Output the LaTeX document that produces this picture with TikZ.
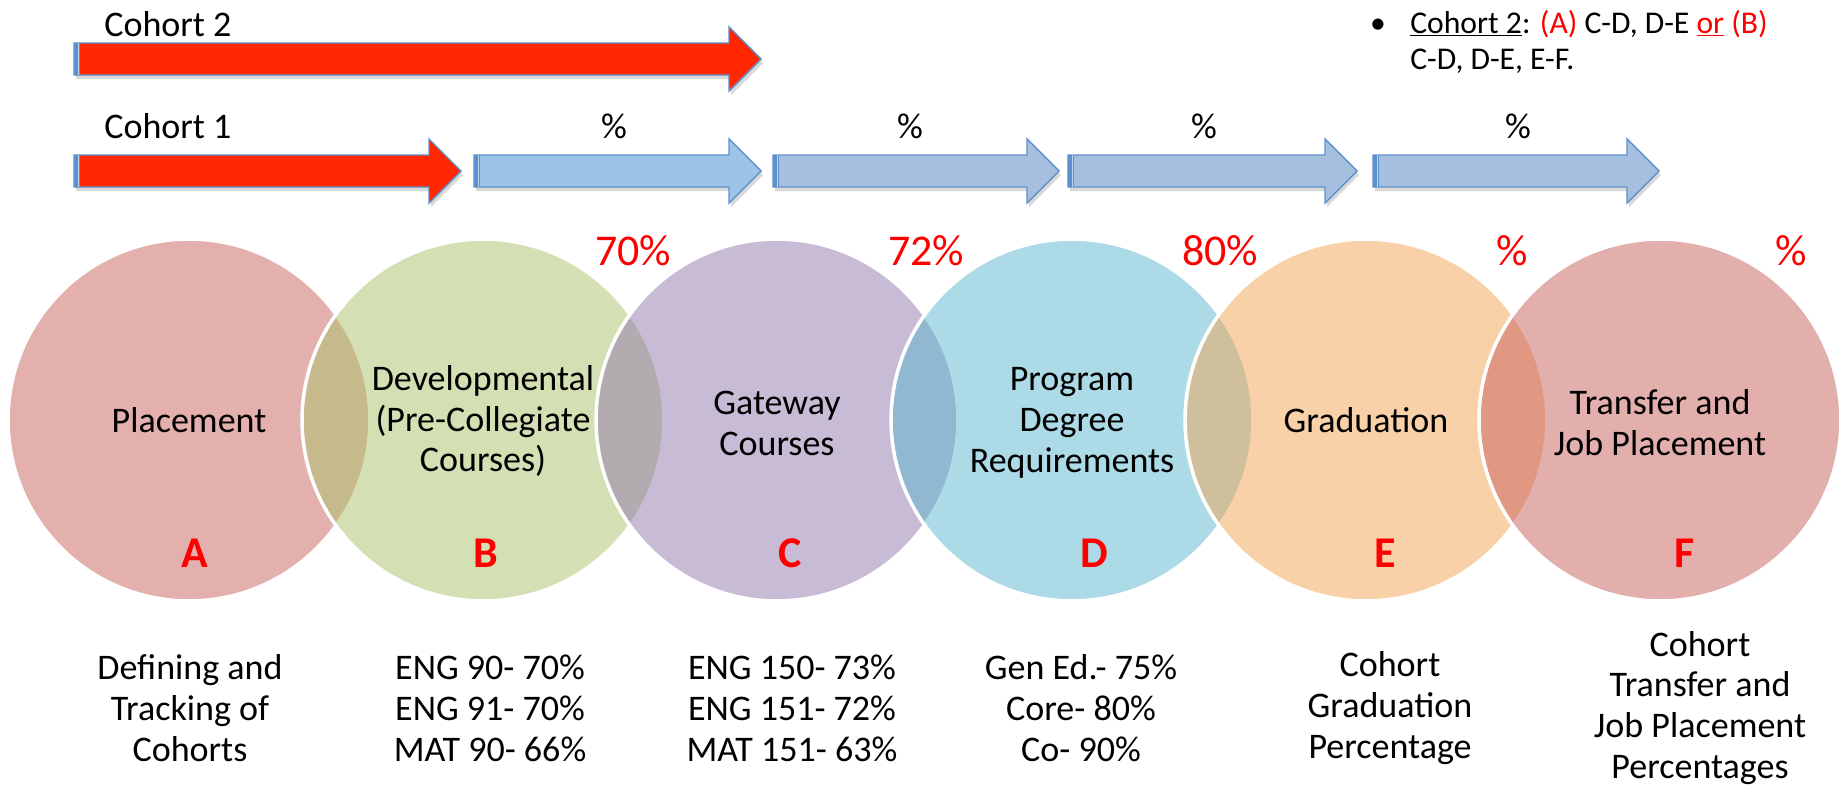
\documentclass[tikz,border=0pt]{standalone}
\usepackage{fontspec}
\setmainfont{Carlito}

\definecolor{arrowred}{RGB}{255,38,0}
\definecolor{arrowline}{RGB}{94,144,205}
\definecolor{arrowblue}{RGB}{157,195,230}
\definecolor{arrowgrey}{RGB}{167,191,222}
\definecolor{stageA}{RGB}{201,99,93}
\definecolor{stageB}{RGB}{171,195,107}
\definecolor{stageC}{RGB}{145,121,173}
\definecolor{stageD}{RGB}{91,183,207}
\definecolor{stageE}{RGB}{245,165,83}
\definecolor{stageF}{RGB}{201,97,93}
\definecolor{pctred}{RGB}{255,0,0}

\tikzset{
  stage/.style={circle, draw=white, line width=2pt, fill opacity=.5,
    minimum size=7.24cm, inner sep=0pt},
  txt/.style={font=\fontsize{20.5}{23.3}\selectfont, align=center, inner sep=0pt},
  letter/.style={font=\bfseries\fontsize{25}{30}\selectfont, text=pctred, inner sep=0pt},
  pct/.style={font=\fontsize{25}{30}\selectfont, text=pctred, inner sep=0pt},
  cohortnote/.style={font=\fontsize{18}{21}\selectfont, align=left, inner sep=0pt}
}

\newcommand{\arrowpath}[3]{(#1,#3-16) -- (#2-32,#3-16) -- (#2-32,#3-32) -- (#2,#3)
  -- (#2-32,#3+32) -- (#2-32,#3+16) -- (#1,#3+16) -- cycle}
\newcommand{\stagearrow}[4]{%
  \fill[black, opacity=.15, shift={(2,4)}] \arrowpath{#1}{#2}{#3};
  \draw[arrowline, line width=.8pt, fill=#4] \arrowpath{#1}{#2}{#3};
  \fill[arrowline] (#1,#3-16) rectangle (#1+6,#3+16);
  \draw[white!60!arrowline, line width=.4pt] (#1+4,#3-16) -- (#1+4,#3+16);
}

\begin{document}
\begin{tikzpicture}[x=0.02cm, y=-0.02cm]
  \fill[white] (0,0) rectangle (1845,798);
  \useasboundingbox (0,0) rectangle (1845,798);

  % cohort arrows
  \node[txt, anchor=west] (cohorttwo) at (104,24) {Cohort 2};
  \node[txt, anchor=west] (cohortone) at (104,126) {Cohort 1};
  \stagearrow{74}{761}{59}{arrowred}
  \stagearrow{74}{461}{171}{arrowred}
  \stagearrow{474}{761}{171}{arrowblue}
  \foreach \xa/\xb in {773/1059, 1068/1357, 1373/1659}
  {
    \stagearrow{\xa}{\xb}{171}{arrowgrey}
  }
  \foreach \x/\nm in {614/one, 910/two, 1204/three, 1518/four}
    \node[txt] (rate\nm) at (\x,126) {\%};

  % note on cohort 2
  \node[cohortnote] (dot) at (1378,26) {\textbullet};
  \node[cohortnote, anchor=west] (note) at (1410,42)
    {\underline{Cohort 2}: \textcolor{pctred}{(A)} C-D, D-E \textcolor{pctred}{\underline{or}} \textcolor{pctred}{(B)}\\
     C-D, D-E, E-F.};

  % stages
  \foreach \nm/\cx/\col in {A/189/stageA, B/483/stageB, C/777/stageC,
                            D/1072/stageD, E/1366/stageE, F/1660/stageF}
    \node[stage, fill=\col] (stage\nm) at (\cx,420) {};

  \node[txt] (nameA) at (189,420) {Placement};
  \node[txt] (nameB) at (483,421) {Developmental\\(Pre-Collegiate\\Courses)};
  \node[txt] (nameC) at (777,423) {Gateway\\Courses};
  \node[txt] (nameD) at (1072,423) {Program\\Degree\\Requirements};
  \node[txt] (nameE) at (1366,420) {Graduation};
  \node[txt] (nameF) at (1660,423) {Transfer and\\Job Placement};

  \foreach \x/\nm in {195/A, 486/B, 790/C, 1094/D, 1385/E, 1685/F}
    \node[letter] (letter\nm) at (\x,553) {\nm};

  \foreach \x/\p in {633/70, 926/72, 1220/80, 1512/, 1791/}
    \node[pct] at (\x,251) {\p\%};

  % results per stage
  \node[txt] (resA) at (190,708) {Defining and\\Tracking of\\Cohorts};
  \node[txt] (resB) at (490,708) {ENG 90- 70\%\\ENG 91- 70\%\\MAT 90- 66\%};
  \node[txt] (resC) at (792,708) {ENG 150- 73\%\\ENG 151- 72\%\\MAT 151- 63\%};
  \node[txt] (resD) at (1081,708) {Gen Ed.- 75\%\\Core- 80\%\\Co- 90\%};
  \node[txt] (resE) at (1390,708) {Cohort\\Graduation\\Percentage};
  \node[txt] (resF) at (1700,708) {Cohort\\Transfer and\\Job Placement\\Percentages};
\end{tikzpicture}
\end{document}
